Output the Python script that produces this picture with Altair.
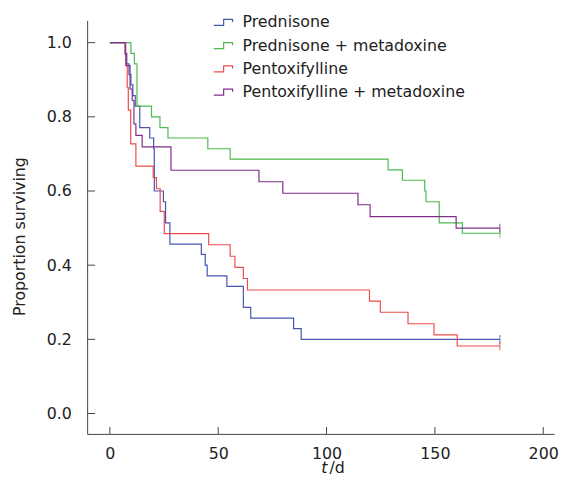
import altair as alt
import pandas as pd

groups = ["Prednisone", "Prednisone + metadoxine", "Pentoxifylline", "Pentoxifylline + metadoxine"]
colors = ["#4457B0", "#4CBB4C", "#EE4B4B", "#7E3089"]

blue_t = [0, 7.2, 7.8, 8.8, 9.7, 10.6, 11.7, 13.8, 18.4, 20.2, 20.5, 24.7, 25.7, 27.7, 42.2, 44.0, 44.9, 54.0, 61.6, 65.0, 84.8, 88.3, 180]
blue_s = [1.0, 0.971, 0.943, 0.914, 0.886, 0.857, 0.829, 0.771, 0.743, 0.714, 0.600, 0.571, 0.514, 0.457, 0.429, 0.400, 0.371, 0.343, 0.286, 0.257, 0.229, 0.200, 0.200]

green_t = [0, 9.7, 11.3, 12.5, 19.2, 23.1, 26.8, 45.2, 55.5, 128.4, 135.0, 145.3, 145.9, 152.0, 162.7, 180]
green_s = [1.0, 0.971, 0.943, 0.829, 0.800, 0.771, 0.743, 0.714, 0.686, 0.657, 0.629, 0.600, 0.571, 0.514, 0.486, 0.486]

red_t = [0, 7.3, 8.0, 8.5, 9.6, 12.0, 20.0, 21.5, 23.2, 25.1, 45.6, 55.5, 57.7, 61.6, 63.5, 119.8, 124.8, 137.6, 149.6, 160.3, 180]
red_s = [1.0, 0.939, 0.879, 0.818, 0.727, 0.667, 0.636, 0.606, 0.545, 0.485, 0.455, 0.424, 0.394, 0.364, 0.333, 0.303, 0.273, 0.242, 0.212, 0.182, 0.182]

purple_t = [0, 7.0, 7.5, 9.3, 10.3, 11.1, 12.0, 14.9, 28.2, 68.8, 79.8, 114.5, 120.1, 159.8, 180]
purple_s = [1.0, 0.969, 0.938, 0.875, 0.844, 0.781, 0.750, 0.719, 0.656, 0.625, 0.594, 0.563, 0.531, 0.500, 0.500]

x_ticks = [0, 50, 100, 150, 200]
y_ticks = [0.0, 0.2, 0.4, 0.6, 0.8, 1.0]

series = [(groups[0], blue_t, blue_s), (groups[1], green_t, green_s),
          (groups[2], red_t, red_s), (groups[3], purple_t, purple_s)]
rows = []
cens = []
for gi, (g, ts, ss) in enumerate(series):
    for t, s in zip(ts, ss):
        rows.append({"group": g, "t": t, "s": s, "order": gi})
    cens.append({"group": g, "t": ts[-1], "s": ss[-1]})
df = pd.DataFrame(rows)
cdf = pd.DataFrame(cens)

FONT = "DejaVu Sans"
xscale = alt.Scale(domain=[-10.5, 205], nice=False, zero=False)
yscale = alt.Scale(domain=[-0.055, 1.06], nice=False, zero=False)
cscale = alt.Scale(domain=groups, range=colors)

W, H = 472, 418

lines = alt.Chart(df).mark_line(interpolate="step-after", strokeWidth=1.2).encode(
    x=alt.X("t:Q", scale=xscale, axis=alt.Axis(values=x_ticks, title=None, ticks=False,
            labelPadding=12, labelFont=FONT, labelFontSize=16, labelColor="#222",
            domainColor="#444", grid=False)),
    y=alt.Y("s:Q", scale=yscale, axis=alt.Axis(values=y_ticks, format=".1f", title="Proportion surviving",
            ticks=False, labelPadding=16, labelFont=FONT, labelFontSize=16, labelColor="#222",
            domainColor="#444", grid=False, titleFont=FONT, titleFontSize=16, titleFontWeight="normal",
            titleColor="#222", titleX=-63, titleY=218, titleAngle=-90, titleBaseline="alphabetic")),
    color=alt.Color("group:N", scale=cscale, sort=groups, legend=alt.Legend(
        title=None, orient="none", legendX=127, legendY=-9, padding=0,
        symbolType="M-1,0.3H0V-0.3H0.9V-0.05V-0.3H0V0.3Z", symbolSize=400, symbolStrokeWidth=1.2,
        labelFont=FONT, labelFontSize=16, labelColor="#222", labelLimit=0,
        labelOffset=8, rowPadding=4.5)),
    detail="group:N",
)

ticks_c = alt.Chart(cdf).mark_tick(orient="vertical", size=9, thickness=1.2).encode(
    x=alt.X("t:Q", scale=xscale),
    y=alt.Y("s:Q", scale=yscale),
    color=alt.Color("group:N", scale=cscale, legend=None),
)

xt = alt.Chart(pd.DataFrame({"v": x_ticks})).mark_rule(color="#444", strokeWidth=1).encode(
    x=alt.X("v:Q", scale=xscale),
    y=alt.value(H), y2=alt.value(H - 7),
)
yt = alt.Chart(pd.DataFrame({"v": y_ticks})).mark_rule(color="#444", strokeWidth=1).encode(
    y=alt.Y("v:Q", scale=yscale),
    x=alt.value(0), x2=alt.value(8),
)

t_txt = alt.Chart(pd.DataFrame({"a": ["t"]})).mark_text(
    font=FONT, fontSize=16, fontStyle="italic", align="right", baseline="alphabetic", color="#222"
).encode(text="a:N", x=alt.value(243), y=alt.value(458))
d_txt = alt.Chart(pd.DataFrame({"a": ["/d"]})).mark_text(
    font=FONT, fontSize=16, align="left", baseline="alphabetic", color="#222"
).encode(text="a:N", x=alt.value(245), y=alt.value(458))

chart = alt.layer(lines, ticks_c, xt, yt, t_txt, d_txt).properties(
    width=W, height=H,
    autosize=alt.AutoSizeParams(type="none"),
    padding={"left": 80, "top": 10, "right": 5, "bottom": 40},
).configure(background="white").configure_view(stroke=None)

chart.save("out.html", embed_options={"renderer": "svg", "actions": False})
